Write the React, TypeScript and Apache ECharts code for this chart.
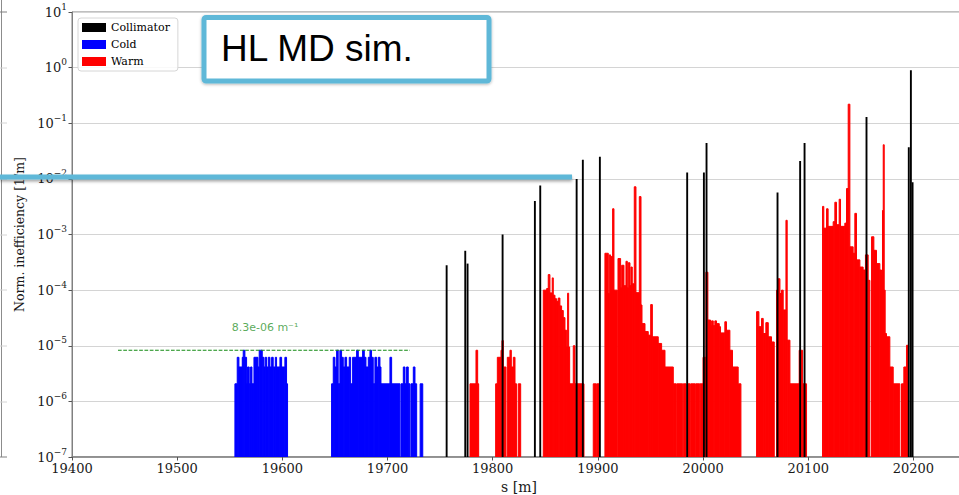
import React, { useEffect, useRef } from 'react';
import * as echarts from 'echarts';

// ---------------- data ----------------
const S_MIN = 19400;
const S_MAX = 20250;
const Y_MIN = 1e-7;
const Y_MAX = 10;
const seriesNames = ['Collimator', 'Cold', 'Warm'];
const seriesColors = ['#000000', '#0000ff', '#ff0000'];

// Collimator losses: [s (m), normalised inefficiency (1/m)]
const collimator: [number, number][] = [
  [19756.2, 2.8e-4], [19773.9, 5.1e-4], [19776.1, 3.0e-4], [19809.4, 1.0e-3],
  [19840.1, 4.0e-3], [19845.2, 7.6e-3], [19879.8, 1.0e-2], [19885.7, 2.2e-2],
  [19901.9, 2.5e-2], [19984.9, 1.3e-2], [20000.8, 1.3e-2], [20003.3, 4.4e-2],
  [20070.8, 5.7e-3], [20092.3, 2.1e-2], [20096.5, 4.4e-2], [20155.4, 0.129],
  [20195.6, 3.7e-2], [20197.6, 0.9], [20199.2, 8.7e-3],
];

// Cold aperture losses: [s start, s end, value]
const cold: [number, number, number][] = [
  [19554.9, 19557.1, 2.07e-6], [19557.1, 19558.7, 6.2e-6], [19558.7, 19561.9, 4.15e-6],
  [19561.9, 19562.8, 6.2e-6], [19562.8, 19564.4, 8.3e-6], [19564.4, 19566.0, 6.2e-6],
  [19566.0, 19566.9, 2.07e-6], [19566.9, 19568.5, 4.15e-6], [19568.5, 19569.8, 2.07e-6],
  [19569.8, 19571.1, 4.15e-6], [19571.1, 19573.0, 2.07e-6], [19573.0, 19576.8, 6.2e-6],
  [19576.8, 19578.0, 4.15e-6], [19578.0, 19580.9, 8.3e-6], [19580.9, 19582.5, 6.2e-6],
  [19582.5, 19583.7, 4.15e-6], [19583.7, 19585.0, 6.2e-6], [19585.0, 19586.6, 4.15e-6],
  [19586.6, 19588.2, 6.2e-6], [19588.2, 19589.8, 4.15e-6], [19589.8, 19591.3, 6.2e-6],
  [19591.3, 19593.3, 4.15e-6], [19593.3, 19594.5, 6.2e-6], [19594.5, 19597.7, 4.15e-6],
  [19597.7, 19599.3, 6.2e-6], [19599.3, 19602.4, 4.15e-6], [19602.4, 19604.0, 6.2e-6],
  [19604.0, 19604.7, 2.07e-6],
  [19646.8, 19648.4, 2.07e-6], [19648.4, 19650.0, 6.2e-6], [19650.0, 19651.6, 4.15e-6],
  [19651.6, 19653.1, 8.3e-6], [19653.1, 19654.7, 2.07e-6], [19654.7, 19656.3, 8.3e-6],
  [19656.3, 19657.9, 6.2e-6], [19657.9, 19659.5, 4.15e-6], [19659.5, 19661.1, 6.2e-6],
  [19661.1, 19663.6, 4.15e-6], [19663.6, 19664.9, 6.2e-6], [19664.9, 19666.8, 2.07e-6],
  [19666.8, 19670.6, 6.2e-6], [19670.6, 19672.2, 8.3e-6], [19672.2, 19676.3, 6.2e-6],
  [19676.3, 19677.9, 8.3e-6], [19677.9, 19679.5, 6.2e-6], [19679.5, 19681.7, 4.15e-6],
  [19681.7, 19683.3, 6.2e-6], [19683.3, 19684.8, 8.3e-6], [19684.8, 19686.4, 6.2e-6],
  [19686.4, 19688.0, 2.07e-6], [19688.0, 19689.6, 6.2e-6], [19689.6, 19691.2, 4.15e-6],
  [19691.2, 19692.8, 6.2e-6], [19692.8, 19693.7, 4.15e-6], [19693.7, 19702.3, 2.07e-6],
  [19702.3, 19703.9, 6.2e-6], [19703.9, 19711.8, 2.07e-6], [19712.8, 19715.0, 2.07e-6],
  [19715.0, 19716.6, 4.15e-6], [19716.6, 19718.1, 2.07e-6], [19718.1, 19719.7, 4.15e-6],
  [19719.7, 19721.3, 2.07e-6], [19722.3, 19724.5, 2.07e-6], [19724.5, 19726.1, 4.15e-6],
  [19726.1, 19727.7, 2.07e-6], [19731.0, 19733.5, 2.07e-6],
];

// Warm aperture losses: [s start, s end, value]
const warm: [number, number, number][] = [
  [19778.4, 19784.1, 2.07e-6], [19784.1, 19785.7, 8.3e-6], [19785.7, 19786.3, 2.07e-6],
  [19802.8, 19804.4, 2.07e-6], [19804.4, 19807.9, 6.2e-6], [19807.9, 19808.8, 8.3e-6],
  [19808.8, 19810.1, 1.24e-5], [19810.1, 19812.6, 4.15e-6], [19813.9, 19816.4, 6.2e-6],
  [19816.4, 19817.7, 8.3e-6], [19817.7, 19819.6, 4.15e-6], [19819.6, 19821.2, 6.2e-6],
  [19821.2, 19822.7, 2.07e-6], [19824.3, 19826.6, 2.07e-6],
  [19848.1, 19851.3, 1.0e-4], [19851.3, 19852.8, 1.07e-4], [19852.8, 19854.4, 1.9e-4],
  [19854.4, 19856.6, 8.9e-5], [19856.6, 19857.6, 1.66e-4], [19857.6, 19859.2, 8.1e-5],
  [19859.2, 19860.8, 7.0e-5], [19860.8, 19862.3, 6.3e-5], [19862.3, 19863.9, 7.2e-5],
  [19863.9, 19865.5, 5.2e-5], [19865.5, 19867.1, 4.3e-5], [19867.1, 19868.7, 3.2e-5],
  [19868.7, 19870.3, 1.9e-5], [19870.3, 19871.2, 9.5e-6], [19871.2, 19872.2, 8.8e-5],
  [19872.2, 19872.8, 9.5e-6], [19872.8, 19876.6, 2.07e-6], [19876.6, 19878.2, 1.0e-5],
  [19878.2, 19886.8, 2.07e-6], [19895.6, 19898.2, 2.07e-6], [19898.8, 19901.5, 2.07e-6],
  [19906.7, 19909.9, 4.6e-4], [19909.9, 19910.8, 8.7e-5], [19910.8, 19912.1, 4.3e-4],
  [19912.1, 19914.0, 4.0e-4], [19914.0, 19915.3, 2.9e-3], [19915.3, 19918.5, 1.0e-4],
  [19919.1, 19921.6, 3.7e-4], [19921.6, 19922.6, 1.1e-4], [19922.6, 19924.8, 2.8e-4],
  [19924.8, 19926.7, 1.2e-4], [19926.7, 19928.0, 3.3e-4], [19928.0, 19928.9, 1.1e-4],
  [19928.9, 19930.5, 3.1e-4], [19930.5, 19931.4, 1.2e-4], [19931.4, 19932.7, 2.6e-4],
  [19932.7, 19934.6, 1.3e-4], [19934.6, 19936.2, 7.2e-3], [19936.2, 19939.4, 9.0e-5],
  [19939.4, 19941.0, 4.8e-3], [19941.0, 19941.6, 5.4e-5], [19941.6, 19944.8, 2.5e-5],
  [19944.8, 19947.9, 1.8e-5], [19947.9, 19950.2, 1.55e-5], [19950.2, 19951.8, 5.5e-5],
  [19951.8, 19957.4, 1.45e-5], [19957.4, 19960.6, 1.1e-5], [19960.6, 19963.8, 8.3e-6],
  [19963.8, 19971.7, 4.15e-6], [19971.7, 19974.3, 2.07e-6], [19974.9, 19980.6, 2.07e-6],
  [19981.2, 19983.8, 2.07e-6], [19984.7, 19987.6, 2.07e-6], [19988.2, 19992.5, 2.07e-6],
  [19993.0, 19996.8, 2.07e-6], [19997.2, 19999.9, 2.07e-6], [20000.0, 20002.7, 6.2e-6],
  [20002.7, 20004.6, 2.1e-4], [20004.6, 20007.1, 2.9e-5], [20007.1, 20008.1, 2.3e-5],
  [20008.1, 20009.7, 2.8e-5], [20009.7, 20011.2, 2.3e-5], [20011.2, 20012.8, 2.8e-5],
  [20012.8, 20015.4, 2.5e-5], [20015.4, 20016.6, 2.2e-5], [20016.6, 20020.7, 1.7e-5],
  [20020.7, 20022.3, 2.7e-5], [20022.3, 20025.5, 1.9e-5], [20025.5, 20028.0, 8.3e-6],
  [20028.0, 20033.4, 4.15e-6], [20033.7, 20036.0, 2.07e-6],
  [20050.9, 20053.1, 4.1e-5], [20053.1, 20055.6, 2.2e-5], [20055.6, 20057.2, 3.1e-5],
  [20057.2, 20059.7, 1.66e-5], [20059.7, 20062.0, 2.6e-5], [20062.0, 20065.1, 1.45e-5],
  [20065.1, 20067.7, 1.17e-5], [20069.9, 20070.8, 1.0e-4], [20070.8, 20073.1, 1.6e-4],
  [20073.1, 20074.6, 8.7e-5], [20074.6, 20076.2, 1.0e-4], [20076.2, 20078.8, 4.4e-5],
  [20078.8, 20080.0, 1.8e-3], [20080.0, 20082.6, 1.26e-5], [20082.6, 20091.4, 2.07e-6],
  [20091.4, 20094.6, 8.3e-6], [20094.6, 20098.4, 2.07e-6],
  [20113.6, 20114.8, 3.2e-3], [20114.8, 20117.4, 1.3e-3], [20117.4, 20118.9, 2.9e-3],
  [20118.9, 20123.7, 1.4e-3], [20123.7, 20125.3, 1.7e-3], [20125.3, 20126.9, 3.8e-3],
  [20126.9, 20129.4, 1.5e-3], [20129.4, 20130.7, 4.3e-3], [20130.7, 20134.8, 1.4e-3],
  [20134.8, 20136.4, 1.6e-3], [20136.4, 20138.0, 6.7e-3], [20138.0, 20139.6, 0.22],
  [20139.6, 20142.7, 6.0e-4], [20142.7, 20144.3, 4.6e-4], [20144.3, 20145.9, 2.4e-3],
  [20145.9, 20149.1, 3.5e-4], [20149.1, 20152.2, 2.6e-4], [20152.2, 20154.4, 2.3e-4],
  [20154.4, 20157.0, 4.3e-4], [20157.0, 20158.6, 1.5e-4], [20160.2, 20162.4, 9.1e-4],
  [20162.4, 20164.9, 5.2e-4], [20164.9, 20168.1, 3.0e-4], [20168.1, 20169.7, 2.3e-4],
  [20169.7, 20170.6, 1.8e-4], [20170.6, 20171.3, 2.7e-3], [20171.3, 20172.2, 4.1e-2],
  [20172.2, 20172.8, 1.0e-4], [20172.8, 20174.4, 1.66e-5], [20174.4, 20177.6, 1.45e-5],
  [20177.6, 20180.8, 4.15e-6], [20180.8, 20187.1, 2.07e-6], [20188.7, 20190.9, 2.07e-6],
  [20190.9, 20193.4, 4.15e-6], [20193.4, 20195.0, 1.02e-5],
];

// Threshold line of the cold aperture
const thresholdValue = 8.3e-6;
const thresholdSpan: [number, number] = [19443.7, 19721.3];
const thresholdLabel = '8.3e-06 m⁻¹';
const thresholdLabelPos: [number, number] = [19583.5, 2.16e-5];

const xName = 's [m]';
const yName = 'Norm. inefficiency [1/m]';
const overlayText = 'HL MD sim.';

// ---------------- styles ----------------
const COLL_WIDTH = 1.8; // m
const SERIF = '"DejaVu Serif", serif';
const OVERLAY_BLUE = '#5fb8d8';
const CHART_W = 966; // the axes run a little past the cropped right edge
const CHART_H = 495;

function renderSegments(params: any, api: any) {
  return rectFor(params, api, api.value(0), api.value(1), api.value(2), 1);
}
function renderLines(params: any, api: any) {
  const s = api.value(0);
  return rectFor(params, api, s - COLL_WIDTH / 2, s + COLL_WIDTH / 2, api.value(1), 0);
}
function rectFor(params: any, api: any, s0: number, s1: number, v: number, seam: number) {
  const top = api.coord([s0, v]);
  const bot = api.coord([s1, Y_MIN]);
  const cs = params.coordSys;
  const shape = echarts.graphic.clipRectByRect(
    { x: top[0], y: top[1], width: Math.max(bot[0] - top[0], 1), height: bot[1] - top[1] },
    { x: cs.x, y: cs.y, width: cs.width, height: cs.height }
  );
  if (!shape) return null;
  const color = api.visual('color');
  return {
    type: 'rect', shape,
    style: { fill: color, stroke: seam > 0 ? color : null, lineWidth: seam },
  };
}

export default function App() {
  const ref = useRef<HTMLDivElement>(null);
  useEffect(() => {
    if (!ref.current) return;
    const chart = echarts.init(ref.current, undefined, { renderer: 'svg' });
    const gridYs = [12, 68, 123, 179, 235, 290, 346, 402, 457];
    const option: any = {
      animation: false,
      backgroundColor: '#ffffff',
      grid: {
        left: 72, top: 12, bottom: 38, right: 0,
        outerBoundsMode: 'none', containLabel: false,
        show: true, borderColor: '#808080', borderWidth: 1, backgroundColor: 'transparent',
      },
      legend: {
        orient: 'vertical', left: 78, top: 18,
        padding: [4, 8, 4, 4], itemGap: 6, itemWidth: 24, itemHeight: 9,
        backgroundColor: 'rgba(255,255,255,0.85)', borderColor: '#d6d6d6', borderWidth: 1, borderRadius: 3,
        textStyle: { fontFamily: SERIF, fontSize: 11, color: '#000' },
        data: seriesNames.map((n, i) => ({ name: n, icon: 'rect', itemStyle: { color: seriesColors[i] } })),
        selectedMode: false,
      },
      xAxis: {
        type: 'value', min: S_MIN, max: S_MAX, interval: 100,
        name: xName, nameLocation: 'middle', nameGap: 18,
        nameTextStyle: { fontFamily: SERIF, fontSize: 14, color: '#1a1a1a' },
        axisLine: { show: true, lineStyle: { color: '#808080', width: 1.5 } },
        axisTick: { show: true, length: 3.5, lineStyle: { color: '#555' } },
        axisLabel: { showMaxLabel: false, margin: 5, fontFamily: SERIF, fontSize: 13, color: '#1a1a1a', formatter: (v: number) => String(v) },
        splitLine: { show: false },
      },
      yAxis: {
        type: 'log', logBase: 10, min: Y_MIN, max: Y_MAX, splitNumber: 8,
        name: yName, nameLocation: 'middle', nameGap: 36,
        nameTextStyle: { fontFamily: SERIF, fontSize: 12.5, color: '#1a1a1a' },
        axisLine: { show: true, lineStyle: { color: '#808080', width: 1 } },
        axisTick: { show: true, length: 3.5, lineStyle: { color: '#555' } },
        axisLabel: {
          margin: 5,
          formatter: (v: number) => {
            const e = Math.round(Math.log10(v));
            return `{b|10}{e|${e < 0 ? '−' : ''}${Math.abs(e)}}`;
          },
          rich: {
            b: { fontFamily: SERIF, fontSize: 13, color: '#1a1a1a', lineHeight: 20 },
            e: { fontFamily: SERIF, fontSize: 9, color: '#1a1a1a', lineHeight: 8, verticalAlign: 'top' },
          },
        },
        splitLine: { show: true, lineStyle: { color: '#d4d4d4', width: 1 } },
      },
      series: [
        {
          name: 'Warm', type: 'custom', renderItem: renderSegments, data: warm,
          encode: { x: [0, 1], y: 2 }, itemStyle: { color: seriesColors[2] }, clip: true, silent: true, z: 2,
        },
        {
          name: 'Cold', type: 'custom', renderItem: renderSegments, data: cold,
          encode: { x: [0, 1], y: 2 }, itemStyle: { color: seriesColors[1] }, clip: true, silent: true, z: 3,
        },
        {
          name: 'Collimator', type: 'custom', renderItem: renderLines, data: collimator,
          encode: { x: 0, y: 1 }, itemStyle: { color: seriesColors[0] }, clip: true, silent: true, z: 4,
        },
        {
          name: 'threshold', type: 'line', silent: true, symbol: 'none', z: 5,
          data: [[thresholdSpan[0], thresholdValue], [thresholdSpan[1], thresholdValue]],
          lineStyle: { color: '#138a13', width: 1.2, type: [3.7, 1.6] },
        },
        {
          name: 'thresholdLabel', type: 'scatter', silent: true, symbolSize: 1, z: 5,
          itemStyle: { color: 'rgba(0,0,0,0)' },
          data: [thresholdLabelPos],
          label: {
            show: true, position: 'inside', formatter: thresholdLabel,
            fontFamily: '"DejaVu Sans", sans-serif', fontSize: 11, color: '#2f952f',
          },
        },
      ],
      graphic: [
        // remnants of the neighbouring plot at the left edge
        { type: 'line', z: 50, shape: { x1: 1.5, y1: 0, x2: 1.5, y2: 457 }, style: { stroke: '#8c8c8c', lineWidth: 1 } },
        ...gridYs.map((y, i) => ({
          type: 'line', z: 50, shape: { x1: 0, y1: y, x2: 7, y2: y },
          style: { stroke: i === 0 || i === gridYs.length - 1 ? '#808080' : '#d4d4d4', lineWidth: 1 },
        })),
        // overlay: blue horizontal marker line
        {
          type: 'rect', z: 100, shape: { x: 0, y: 174.5, width: 572, height: 5 },
          style: { fill: OVERLAY_BLUE, shadowBlur: 3, shadowColor: 'rgba(0,0,0,0.35)', shadowOffsetY: 2 },
        },
        // overlay: title box
        {
          type: 'rect', z: 100, shape: { x: 204, y: 17.5, width: 285, height: 63.5, r: 2 },
          style: { fill: '#ffffff', stroke: OVERLAY_BLUE, lineWidth: 5, shadowBlur: 3, shadowColor: 'rgba(0,0,0,0.3)', shadowOffsetY: 1 },
        },
        {
          type: 'text', z: 101, x: 221, y: 48,
          style: { text: overlayText, fontFamily: '"Liberation Sans", Arial, sans-serif', fontSize: 37, fill: '#000', verticalAlign: 'middle' },
        },
      ],
    };
    chart.setOption(option);
    return () => chart.dispose();
  }, []);
  return (
    <div style={{ position: 'absolute', left: 0, top: 0, width: 959, height: 495, overflow: 'hidden', background: '#fff' }}>
      <div ref={ref} style={{ width: CHART_W, height: CHART_H }} />
    </div>
  );
}
